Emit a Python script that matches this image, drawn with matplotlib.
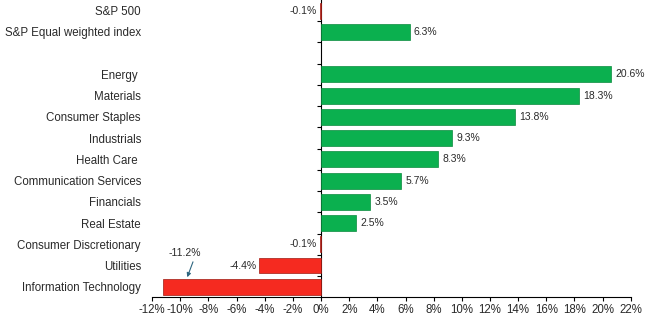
import matplotlib.pyplot as plt

plt.rcParams['font.family'] = ['Liberation Sans', 'DejaVu Sans']
plt.rcParams['font.size'] = 8

# 从下到上排列，空字符串为占位行
categories = ['Information Technology', 'Utilities', 'Consumer Discretionary',
              'Real Estate', 'Financials', 'Communication Services',
              'Health Care ', 'Industrials', 'Consumer Staples', 'Materials',
              'Energy ', '', 'S&P Equal weighted index', 'S&P 500']
values = [-11.2, -4.4, -0.1, 2.5, 3.5, 5.7, 8.3, 9.3, 13.8, 18.3, 20.6,
          None, 6.3, -0.1]
x_ticks = list(range(-12, 23, 2))

green = '#0bb04f'
red = '#f52a20'
txt = '#2a2a2a'

fig = plt.figure(figsize=(6.47, 3.25), dpi=100)
ax = fig.add_axes([0.235, 0.085, 0.74, 0.915])

pos = list(range(len(categories)))
for y, v in zip(pos, values):
    if v is None:
        continue
    col = green if v >= 0 else red
    edge = '#0a8a3e' if v >= 0 else '#9e1a12'
    ax.barh(y, v, height=0.75, color=col, edgecolor=edge, linewidth=0.5)
    label = f'{v:.1f}%'
    if v >= 0:
        ax.annotate(label, (v, y), xytext=(3, 0), textcoords='offset points',
                    ha='left', va='center', fontsize=7.5, color=txt)
    elif v > -10:
        ax.annotate(label, (v, y), xytext=(-2, 0), textcoords='offset points',
                    ha='right', va='center', fontsize=7.5, color=txt)
    else:
        # 最长的负值标签放在上方并加箭头
        ax.annotate(label, xy=(-9.5, y + 0.45), xytext=(-9.65, y + 1.6),
                    ha='center', va='center', fontsize=7.5, color=txt,
                    arrowprops=dict(arrowstyle='-|>', color='#2e6680', lw=0.8,
                                    mutation_scale=6, shrinkA=1, shrinkB=0,
                                    relpos=(0.8, 0.1)))

ax.set_xlim(-12, 22)
ax.set_ylim(-0.5, 13.5)
ax.set_xticks(x_ticks)
ax.set_xticklabels([f'{t}%' for t in x_ticks])
ax.set_yticks(pos)
ax.set_yticklabels(categories, color=txt)
ax.tick_params(axis='y', length=0, pad=8, labelsize=8.3)
ax.tick_params(axis='x', length=3, direction='out', labelsize=8.3, pad=2,
               labelcolor=txt)

for s in ['top', 'right', 'left']:
    ax.spines[s].set_visible(False)
ax.spines['bottom'].set_linewidth(0.8)

# 零轴：在类别边界处画刻度
sec = ax.secondary_yaxis(12 / 34)
sec.set_yticks([p + 0.5 for p in pos[:-1]])
sec.set_yticklabels([])
sec.tick_params(axis='y', length=3, direction='out', width=0.8)
sec.spines['left'].set_linewidth(0.8)

fig.savefig('out.png', dpi=100)
